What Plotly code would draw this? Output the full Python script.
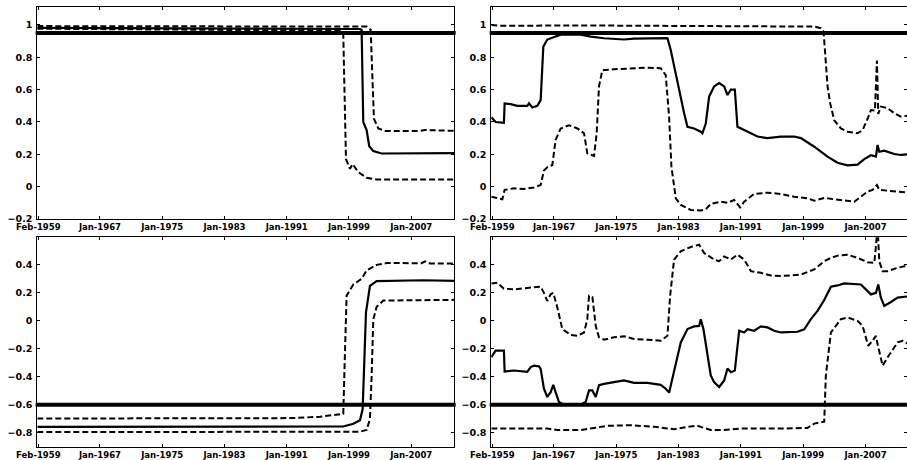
import plotly.graph_objects as go

# ---------------- tick labels / reference levels ----------------
x_tickvals = [1959.083, 1967, 1975, 1983, 1991, 1999, 2007]
x_ticktext = ["Feb-1959", "Jan-1967", "Jan-1975", "Jan-1983", "Jan-1991", "Jan-1999", "Jan-2007"]
top_ytickvals = [-0.2, 0, 0.2, 0.4, 0.6, 0.8, 1]
top_yticktext = ["\u22120.2", "0", "0.2", "0.4", "0.6", "0.8", "1"]
bot_ytickvals = [-0.8, -0.6, -0.4, -0.2, 0, 0.2, 0.4]
bot_yticktext = ["\u22120.8", "\u22120.6", "\u22120.4", "\u22120.2", "0", "0.2", "0.4"]
top_ref = 0.95
bot_ref = -0.6

# ---------------- top-left panel ----------------
tl_mid_x = [1958.95, 2000.42, 2000.63, 2000.84, 2001.27, 2001.61, 2002.13, 2003.2, 2012.5]
tl_mid_y = [0.982, 0.975, 0.97, 0.40, 0.35, 0.25, 0.22, 0.205, 0.207]
tl_up_x = [1958.95, 2001.27, 2001.79, 2002.04, 2002.21, 2002.77, 2003.63, 2008.13, 2008.77, 2012.5]
tl_up_y = [0.993, 0.99, 0.97, 0.60, 0.42, 0.36, 0.345, 0.345, 0.35, 0.345]
tl_lo_x = [1958.95, 1997.84, 1998.27, 1998.45, 1998.62, 1999.13, 1999.47, 2000.2, 2001.27, 2002.56, 2012.5]
tl_lo_y = [0.977, 0.965, 0.94, 0.50, 0.17, 0.11, 0.14, 0.09, 0.055, 0.045, 0.045]

# ---------------- bottom-left panel ----------------
bl_mid_x = [1958.95, 1998.27, 1999.56, 2000.42, 2000.76, 2000.93, 2001.19, 2001.7, 2002.56, 2008.55, 2012.5]
bl_mid_y = [-0.757, -0.755, -0.735, -0.71, -0.63, -0.30, 0.06, 0.25, 0.284, 0.29, 0.285]
bl_up_x = [1958.95, 1991.85, 1995.27, 1998.27, 1998.45, 1998.7, 1999.56, 2000.63, 2001.27, 2002.56, 2003.84,
           2008.34, 2008.77, 2009.41, 2012.5]
bl_up_y = [-0.698, -0.695, -0.685, -0.665, -0.30, 0.18, 0.26, 0.30, 0.36, 0.40, 0.413,
           0.412, 0.425, 0.41, 0.41]
bl_lo_x = [1958.95, 2000.42, 2001.27, 2001.7, 2001.91, 2002.13, 2002.56, 2003.41, 2012.5]
bl_lo_y = [-0.795, -0.792, -0.78, -0.70, -0.40, 0.01, 0.10, 0.145, 0.15]

# ---------------- top-right panel ----------------
tr_mid_x = [1958.95, 1959.5, 1960.57, 1960.66, 1961.43, 1962.29, 1963.57, 1963.79, 1964.22, 1964.86, 1965.29,
            1965.63, 1966.14, 1967.0, 1967.86, 1970.43, 1971.71, 1973.43, 1976.0, 1977.28, 1980.28, 1981.57,
            1981.99, 1982.85, 1983.71, 1984.14, 1984.99, 1985.85, 1986.06, 1986.49, 1986.92, 1987.56, 1988.21,
            1988.85, 1989.28, 1989.71, 1990.22, 1990.56, 1990.99, 1991.85, 1993.13, 1994.42, 1996.13, 1997.84,
            1998.7, 2000.42, 2002.13, 2003.41, 2004.7, 2005.98, 2006.84, 2007.7, 2008.34, 2008.55, 2008.77,
            2009.41, 2010.7, 2011.55, 2012.5]
tr_mid_y = [0.43, 0.40, 0.395, 0.515, 0.51, 0.50, 0.50, 0.515, 0.49, 0.50, 0.535,
            0.866, 0.91, 0.924, 0.94, 0.94, 0.928, 0.918, 0.91, 0.915, 0.92, 0.918,
            0.845, 0.64, 0.454, 0.37, 0.36, 0.34, 0.33, 0.39, 0.557, 0.62, 0.64,
            0.62, 0.567, 0.60, 0.60, 0.37, 0.36, 0.34, 0.31, 0.30, 0.31, 0.31,
            0.30, 0.247, 0.186, 0.148, 0.132, 0.136, 0.17, 0.194, 0.186, 0.258, 0.216,
            0.223, 0.202, 0.196, 0.20]
tr_up_x = [1958.95, 1960.15, 1970.43, 1983.28, 1996.13, 2000.42, 2001.27, 2001.61, 2001.79, 2002.13, 2002.47,
           2002.99, 2003.84, 2004.7, 2005.98, 2006.63, 2007.27, 2007.7, 2008.21, 2008.47, 2008.64, 2008.98,
           2009.84, 2010.7, 2011.55, 2012.5]
tr_up_y = [1.0, 0.995, 0.997, 0.995, 0.993, 0.99, 0.98, 0.96, 0.845, 0.62, 0.515,
           0.41, 0.36, 0.34, 0.33, 0.35, 0.42, 0.474, 0.47, 0.78, 0.45, 0.495,
           0.485, 0.454, 0.433, 0.44]
tr_lo_x = [1958.95, 1959.72, 1960.36, 1960.66, 1961.86, 1963.14, 1964.43, 1965.29, 1965.71, 1966.14, 1966.79,
           1967.21, 1967.86, 1968.93, 1970.0, 1970.86, 1971.28, 1972.14, 1972.48, 1972.78, 1973.21, 1974.71,
           1976.85, 1979.0, 1980.71, 1981.35, 1981.78, 1982.08, 1982.64, 1983.28, 1984.56, 1985.85, 1986.49,
           1987.13, 1988.42, 1989.28, 1990.13, 1990.9, 1991.42, 1992.7, 1994.42, 1996.13, 1997.84, 1999.56,
           2000.42, 2001.7, 2002.99, 2004.7, 2005.56, 2006.41, 2007.27, 2007.91, 2008.47, 2008.77, 2009.84,
           2011.13, 2012.5]
tr_lo_y = [-0.062, -0.072, -0.078, -0.02, -0.01, -0.015, -0.005, 0.01, 0.10, 0.12, 0.134,
           0.29, 0.36, 0.38, 0.36, 0.33, 0.206, 0.19, 0.33, 0.62, 0.72, 0.726,
           0.732, 0.736, 0.732, 0.69, 0.433, 0.124, -0.072, -0.113, -0.144, -0.148, -0.14,
           -0.107, -0.093, -0.10, -0.082, -0.128, -0.093, -0.045, -0.037, -0.045, -0.062, -0.072,
           -0.087, -0.07, -0.078, -0.087, -0.093, -0.062, -0.03, -0.02, 0.01, -0.02, -0.025,
           -0.03, -0.037]

# ---------------- bottom-right panel ----------------
br_mid_x = [1958.95, 1959.5, 1960.57, 1960.66, 1961.86, 1963.14, 1963.57, 1964.0, 1964.43, 1965.07, 1965.29,
            1965.71, 1966.14, 1966.57, 1966.91, 1967.21, 1967.64, 1968.29, 1970.43, 1971.07, 1971.5, 1971.93,
            1972.36, 1972.78, 1973.43, 1974.71, 1976.0, 1977.28, 1979.0, 1980.71, 1981.35, 1981.78, 1982.42,
            1983.28, 1984.14, 1984.99, 1985.64, 1985.85, 1986.19, 1986.71, 1987.13, 1987.56, 1988.21, 1988.85,
            1989.28, 1989.71, 1990.22, 1990.78, 1991.42, 1991.85, 1992.7, 1993.56, 1994.42, 1995.27, 1996.13,
            1998.27, 1999.13, 1999.99, 2000.84, 2001.7, 2002.56, 2003.41, 2004.27, 2006.41, 2007.7, 2008.34,
            2008.64, 2008.98, 2009.41, 2010.27, 2011.13, 2012.5]
br_mid_y = [-0.26, -0.213, -0.213, -0.362, -0.355, -0.362, -0.365, -0.33, -0.32, -0.325, -0.343,
            -0.485, -0.544, -0.51, -0.457, -0.51, -0.58, -0.60, -0.60, -0.58, -0.497, -0.497,
            -0.544, -0.46, -0.45, -0.438, -0.426, -0.443, -0.443, -0.457, -0.485, -0.513, -0.367,
            -0.154, -0.059, -0.04, -0.036, 0.012, -0.059, -0.225, -0.39, -0.438, -0.473, -0.426,
            -0.34, -0.367, -0.355, -0.071, -0.083, -0.06, -0.071, -0.04, -0.047, -0.071, -0.083,
            -0.078, -0.06, 0.012, 0.071, 0.149, 0.244, 0.253, 0.267, 0.26, 0.189, 0.20,
            0.26, 0.166, 0.107, 0.135, 0.166, 0.175]
br_up_x = [1958.95, 1959.72, 1960.57, 1961.86, 1963.57, 1965.29, 1965.71, 1966.14, 1966.57, 1966.91, 1967.43,
           1968.07, 1969.14, 1970.0, 1970.86, 1971.28, 1971.5, 1971.93, 1972.36, 1972.78, 1973.43, 1974.71,
           1976.0, 1977.28, 1979.0, 1980.71, 1981.57, 1981.91, 1982.42, 1983.28, 1984.56, 1985.64, 1986.28,
           1987.56, 1988.21, 1988.85, 1989.71, 1990.56, 1991.42, 1992.28, 1993.56, 1994.85, 1996.13, 1998.7,
           2000.42, 2001.7, 2002.56, 2003.41, 2004.7, 2005.98, 2007.27, 2008.13, 2008.34, 2008.55, 2008.77,
           2009.2, 2009.84, 2011.13, 2012.5]
br_up_y = [0.267, 0.272, 0.23, 0.225, 0.235, 0.244, 0.20, 0.142, 0.19, 0.20, 0.095,
           -0.059, -0.10, -0.107, -0.083, 0.012, 0.178, 0.17, -0.036, -0.118, -0.135, -0.118,
           -0.11, -0.13, -0.135, -0.142, -0.107, 0.178, 0.438, 0.497, 0.528, 0.544, 0.485,
           0.438, 0.426, 0.46, 0.438, 0.473, 0.438, 0.355, 0.343, 0.324, 0.32, 0.331,
           0.367, 0.426, 0.45, 0.466, 0.473, 0.45, 0.419, 0.414, 0.533, 0.68, 0.426,
           0.355, 0.355, 0.379, 0.397]
br_lo_x = [1958.95, 1961.86, 1966.14, 1967.43, 1970.43, 1972.14, 1973.85, 1976.85, 1979.85, 1982.42, 1984.14,
           1985.42, 1987.13, 1988.85, 1990.99, 1996.13, 1999.56, 2000.42, 2001.7, 2001.91, 2002.13, 2002.56,
           2003.2, 2003.84, 2004.7, 2005.98, 2006.63, 2007.35, 2007.91, 2008.34, 2008.55, 2009.2, 2009.84,
           2011.13, 2011.77, 2012.5]
br_lo_y = [-0.77, -0.77, -0.77, -0.78, -0.78, -0.765, -0.75, -0.746, -0.757, -0.774, -0.757,
           -0.75, -0.78, -0.78, -0.77, -0.77, -0.765, -0.734, -0.72, -0.39, -0.27, -0.083,
           -0.036, 0.012, 0.024, 0.0, -0.036, -0.178, -0.142, -0.107, -0.166, -0.32, -0.26,
           -0.154, -0.142, -0.166]

panels = [
    ("x", "y", tl_mid_x, tl_mid_y, tl_up_x, tl_up_y, tl_lo_x, tl_lo_y, top_ref),
    ("x2", "y2", tr_mid_x, tr_mid_y, tr_up_x, tr_up_y, tr_lo_x, tr_lo_y, top_ref),
    ("x3", "y3", bl_mid_x, bl_mid_y, bl_up_x, bl_up_y, bl_lo_x, bl_lo_y, bot_ref),
    ("x4", "y4", br_mid_x, br_mid_y, br_up_x, br_up_y, br_lo_x, br_lo_y, bot_ref),
]

fig = go.Figure()
shapes = []
dash_style = "6px,3px"
for xa, ya, mx, my, ux, uy, lx, ly, ref in panels:
    fig.add_trace(go.Scatter(x=ux, y=uy, xaxis=xa, yaxis=ya, mode="lines",
                             line=dict(color="black", width=2, dash=dash_style)))
    fig.add_trace(go.Scatter(x=lx, y=ly, xaxis=xa, yaxis=ya, mode="lines",
                             line=dict(color="black", width=2, dash=dash_style)))
    fig.add_trace(go.Scatter(x=mx, y=my, xaxis=xa, yaxis=ya, mode="lines",
                             line=dict(color="black", width=2.2)))
    shapes.append(dict(type="line", xref=xa + " domain", yref=ya, x0=-0.004, x1=1.004,
                       y0=ref, y1=ref, line=dict(color="black", width=4), layer="above"))

xfont = dict(family="DejaVu Sans", size=8.5, color="black", weight="bold")
yfont = dict(family="DejaVu Sans", size=9.5, color="black", weight="bold")

def xax(domain, rng, anchor):
    return dict(domain=domain, range=rng, anchor=anchor, tickmode="array",
                tickvals=x_tickvals, ticktext=x_ticktext, ticks="inside", ticklen=3,
                tickwidth=1, tickcolor="black", showline=True, linecolor="black",
                linewidth=1, mirror="ticks", showgrid=False, zeroline=False,
                tickfont=xfont, ticklabelstandoff=0, automargin=False)

def yax(domain, rng, anchor, tv, tt):
    return dict(domain=domain, range=rng, anchor=anchor, tickmode="array",
                tickvals=tv, ticktext=tt, ticks="inside", ticklen=3,
                tickwidth=1, tickcolor="black", showline=True, linecolor="black",
                linewidth=1, mirror="ticks", showgrid=False, zeroline=False,
                tickfont=yfont, ticklabelstandoff=2, automargin=False)

left_dom = [37.3 / 907, 454 / 907]
right_dom = [491.3 / 907, 1.0]
top_dom = [1 - 219 / 460, 1 - 6.7 / 460]
bot_dom = [1 - 446.8 / 460, 1 - 237.3 / 460]
left_rng = [1958.95, 2012.5]
right_rng = [1958.95, 2012.33]
top_rng = [-0.2, 1.113]
bot_rng = [-0.9, 0.597]

fig.update_layout(
    width=907, height=460,
    margin=dict(l=0, r=0, t=0, b=0, autoexpand=False),
    paper_bgcolor="white", plot_bgcolor="white",
    showlegend=False,
    shapes=shapes,
    xaxis=xax(left_dom, left_rng, "y"),
    yaxis=yax(top_dom, top_rng, "x", top_ytickvals, top_yticktext),
    xaxis2=xax(right_dom, right_rng, "y2"),
    yaxis2=yax(top_dom, top_rng, "x2", top_ytickvals, top_yticktext),
    xaxis3=xax(left_dom, left_rng, "y3"),
    yaxis3=yax(bot_dom, bot_rng, "x3", bot_ytickvals, bot_yticktext),
    xaxis4=xax(right_dom, right_rng, "y4"),
    yaxis4=yax(bot_dom, bot_rng, "x4", bot_ytickvals, bot_yticktext),
)

fig.write_html("out.html", config={"displayModeBar": False},
               post_script="document.body.style.margin='0';document.body.style.overflow='hidden';")
